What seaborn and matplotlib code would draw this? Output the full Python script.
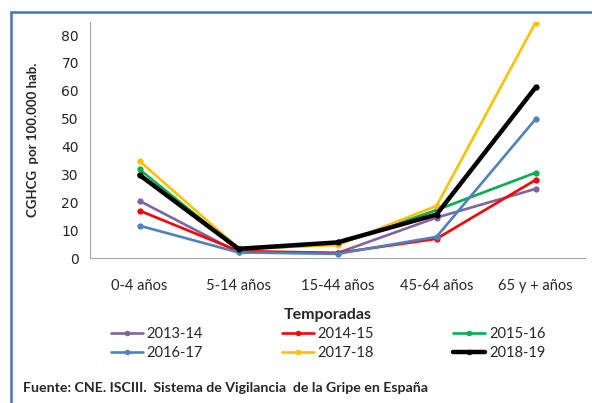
import matplotlib
matplotlib.use("Agg")
import matplotlib.pyplot as plt
from matplotlib.patches import Rectangle
from matplotlib.lines import Line2D
import seaborn as sns
import pandas as pd

categories = ["0-4 años", "5-14 años", "15-44 años", "45-64 años", "65 y + años"]
seasons = ["2013-14", "2014-15", "2015-16", "2016-17", "2017-18", "2018-19"]
v_2013_14 = [20.5, 2.0, 1.8, 14.5, 24.8]
v_2014_15 = [17.0, 2.5, 1.8, 6.9, 28.0]
v_2015_16 = [31.8, 3.0, 5.0, 17.2, 30.6]
v_2016_17 = [11.6, 2.0, 1.5, 7.6, 49.8]
v_2017_18 = [34.8, 3.5, 4.6, 18.7, 84.5]
v_2018_19 = [29.8, 3.3, 5.6, 15.6, 61.2]
values = [v_2013_14, v_2014_15, v_2015_16, v_2016_17, v_2017_18, v_2018_19]
colors = ["#8064A2", "#FF0000", "#00B050", "#4F81BD", "#FFC000", "#000000"]
widths = [1.9, 1.9, 1.9, 1.9, 1.9, 3.2]

sns.set_style("white")
plt.rcParams['font.family'] = ['Lato', 'DejaVu Sans']

fig = plt.figure(figsize=(5.92, 4.03), dpi=100)
W, H = 592, 403
ax = fig.add_axes([90 / W, 1 - 258 / H, (585 - 90) / W, (258 - 22) / H])

handles = []
for s, vals, c, lw in zip(seasons, values, colors, widths):
    df = pd.DataFrame({"x": range(len(categories)), "y": vals})
    sns.lineplot(data=df, x="x", y="y", ax=ax, color=c, lw=lw, marker="o",
                 markersize=4.5, markeredgewidth=0, legend=False)
    handles.append(Line2D([0], [0], color=c, lw=lw, marker="o", markersize=4,
                          markeredgewidth=0))

ax.set_xlim(-0.5, len(categories) - 0.5)
ax.set_ylim(0, 84.7)
ax.set_yticks(range(0, 81, 10))
ax.set_yticklabels([str(v) for v in range(0, 81, 10)], family='DejaVu Sans', fontsize=10)
ax.set_xticks(range(len(categories)))
ax.set_xticklabels(categories, fontsize=10.5)
ax.set_xticks([i - 0.5 for i in range(len(categories) + 1)], minor=True)
ax.tick_params(axis='x', which='major', length=0, pad=15)
ax.tick_params(axis='x', which='minor', length=5, color='#A6A6A6', width=1, direction='out')
ax.tick_params(axis='y', length=5, color='#A6A6A6', width=1, direction='out', pad=3)
for sp in ['top', 'right']:
    ax.spines[sp].set_visible(False)
for sp in ['left', 'bottom']:
    ax.spines[sp].set_color('#A6A6A6')
ax.set_xlabel("")
ax.set_ylabel("CGHCG  por 100.000 hab.", fontsize=9.5, fontweight='bold')
ax.yaxis.set_label_coords(-0.103, 0.5)

order = [0, 3, 1, 4, 2, 5]
leg = fig.legend([handles[i] for i in order], [seasons[i] for i in order],
                 ncol=3, loc='upper center', bbox_to_anchor=(328 / W, 1 - 295 / H),
                 title="Temporadas", frameon=False, fontsize=10.5,
                 handlelength=2.2, handletextpad=0.27, columnspacing=5.4,
                 labelspacing=0.35)
leg.get_title().set_fontweight('bold')
leg.get_title().set_fontsize(11.5)

fig.text(23 / W, 1 - 388 / H, "Fuente: CNE. ISCIII.  Sistema de Vigilancia  de la Gripe en España",
         fontsize=10.2, fontweight='bold', va='center', ha='left')

fig.patches.append(Rectangle((11 / W, -0.05), 1.1, 1 - 12 / H + 0.05,
                             transform=fig.transFigure, fill=False,
                             edgecolor='#4472C4', lw=1.8))

fig.savefig("out.png", dpi=100)
